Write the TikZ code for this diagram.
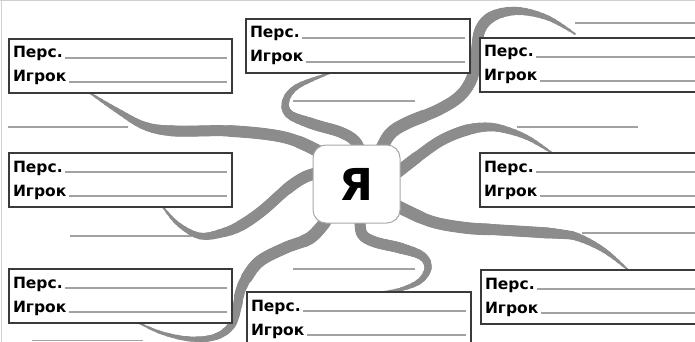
\documentclass[tikz,border=0pt]{standalone}
\usepackage{fontspec}
\setmainfont{DejaVu Sans}
\usetikzlibrary{calc}
\pgfdeclarelayer{background}
\pgfsetlayers{background,main}
\definecolor{tentgray}{HTML}{8C8C8C}
\definecolor{rulegray}{HTML}{A2A2A2}
\definecolor{boxline}{HTML}{3A3A3A}
\definecolor{framegray}{HTML}{D0D0D0}
\definecolor{megray}{HTML}{A8A8A8}

% One player card: name, x, y (top-left corner), width
\newcommand\playerbox[4]{%
  \node[pbox, minimum width=#4pt] (#1) at (#2,#3) {};
  \node[lbl] (#1-p) at ($(#1.north west)+(4pt,-19pt)$) {Перс.};
  \node[lbl] (#1-i) at ($(#1.north west)+(4pt,-43pt)$) {Игрок};
  \draw[uline] ($(#1-p.base east)+(2.5pt,0)$) -- ($(#1-p.base east -| #1.east)+(-5pt,0)$);
  \draw[uline] ($(#1-i.base east)+(2.5pt,0)$) -- ($(#1-i.base east -| #1.east)+(-5pt,0)$);
}

% A tapered arm through the given points: thin at the first point,
% growing thicker along the curve (each pass starts a little later).
% #1: length of one widening step, #2: the points
\newcommand\arm[2]{%
  \foreach \k in {0,...,15} {%
    \pgfmathsetmacro\armw{2+0.6*\k}%
    \pgfmathsetmacro\armph{8000-#1*\k}%
    \draw[armline, line width=\armw pt,
          dash pattern=on 4000pt off 4000pt, dash phase=\armph pt]
      plot[smooth, tension=0.6] coordinates {#2};
  }%
  \draw[armline, line width=11.7pt,
        dash pattern=on 4000pt off 4000pt, dash phase=7850pt]
    plot[smooth, tension=0.6] coordinates {#2};
  \draw[armline, line width=12.4pt,
        dash pattern=on 4000pt off 4000pt, dash phase=7780pt]
    plot[smooth, tension=0.6] coordinates {#2};
}

\begin{document}
\begin{tikzpicture}[x=1pt,y=-1pt,
  pbox/.style={draw=boxline, line width=1.6pt, fill=white, rectangle,
    minimum height=54pt, inner sep=0pt, outer sep=0pt, anchor=north west},
  lbl/.style={inner sep=0pt, outer sep=0pt, anchor=base west, text=black,
    font=\fontsize{15.5}{17}\selectfont\bfseries},
  uline/.style={draw=rulegray, line width=1.3pt},
  blank/.style={draw=rulegray, line width=1.4pt},
  frameline/.style={draw=framegray, line width=1pt},
  armline/.style={draw=tentgray, line cap=round, line join=round},
  mebox/.style={draw=megray, line width=1pt, fill=white, rounded corners=13pt,
    minimum width=87pt, minimum height=78pt, inner sep=0pt,
    font=\fontsize{44}{48}\selectfont\bfseries}
]
\useasboundingbox (0,0) rectangle (695,342);

% outer frame
\draw[frameline] (0,0.8) -- (695,0.8);
\draw[frameline] (1.2,0) -- (1.2,342);

% player cards
\playerbox{tl}{9}{39}{223}
\playerbox{tc}{246}{19}{224}
\playerbox{tr}{480}{38}{232}
\playerbox{ml}{9}{153}{223}
\playerbox{mr}{480}{153}{232}
\playerbox{bl}{9}{269}{223}
\playerbox{bc}{247}{292}{224}
\playerbox{br}{481}{270}{232}

% centre
\node[mebox] (me) at (356.5,184) {Я};

% where the arms meet the cards
\coordinate (t1) at ([xshift=81pt]tl.south west);
\coordinate (t2) at ([xshift=84pt]tc.south west);
\coordinate (t3) at ([xshift=95pt,yshift=4pt]tr.north west);
\coordinate (t4) at ([xshift=72pt]mr.north west);
\coordinate (t5) at ([xshift=147pt]br.north west);
\coordinate (t6) at ([xshift=136pt]bc.north west);
\coordinate (t7) at ([xshift=130pt]bl.south west);
\coordinate (t8) at ([xshift=154pt]ml.south west);

\begin{pgfonlayer}{background}
  % free writing lines
  \coordinate (ba1) at (8,127);    \coordinate (bb1) at (128,127);
  \coordinate (ba2) at (293,101);  \coordinate (bb2) at (415,101);
  \coordinate (ba3) at (575,23);   \coordinate (bb3) at (700,23);
  \coordinate (ba4) at (517,127);  \coordinate (bb4) at (638,127);
  \coordinate (ba5) at (70,236);   \coordinate (bb5) at (192,236);
  \coordinate (ba6) at (293,269);  \coordinate (bb6) at (415,269);
  \coordinate (ba7) at (582,233);  \coordinate (bb7) at (700,233);
  \coordinate (ba8) at (32,340.5); \coordinate (bb8) at (143,340.5);
  \foreach \k in {1,...,8} {\draw[blank] (ba\k) -- (bb\k);}

  % arms
  \arm{6}{(t1) (118,111) (145,126) (175,131) (230,131) (283,137) (316,150) (334,162)}
  \arm{6}{(t2) (298,86) (286,100) (289,114) (313,124) (340,132) (355,141) (362,155)}
  \arm{6}{(t3) (548,18) (518,11) (493,16) (480,30) (476,55) (472,78) (460,96) (438,110) (407,123) (390,134) (380,152)}
  \arm{6}{(t4) (530,139) (510,131) (490,127) (467,130) (442,140) (420,155) (398,172)}
  \arm{6}{(t5) (605,251) (580,238) (560,234) (500,230) (467,228) (433,222) (405,210) (390,202)}
  \arm{6}{(t6) (402,289) (420,281) (428,268) (422,256) (400,248) (375,242) (362,234) (360,218)}
  \arm{10}{(t7) (162,333) (190,339) (215,337) (231,326) (237,308) (240,292) (247,277) (260,261) (285,248) (310,238) (325,222)}
  \arm{6}{(t8) (178,224) (200,236) (222,233) (240,226) (262,211) (287,189) (305,177) (322,172)}
\end{pgfonlayer}
\end{tikzpicture}
\end{document}
